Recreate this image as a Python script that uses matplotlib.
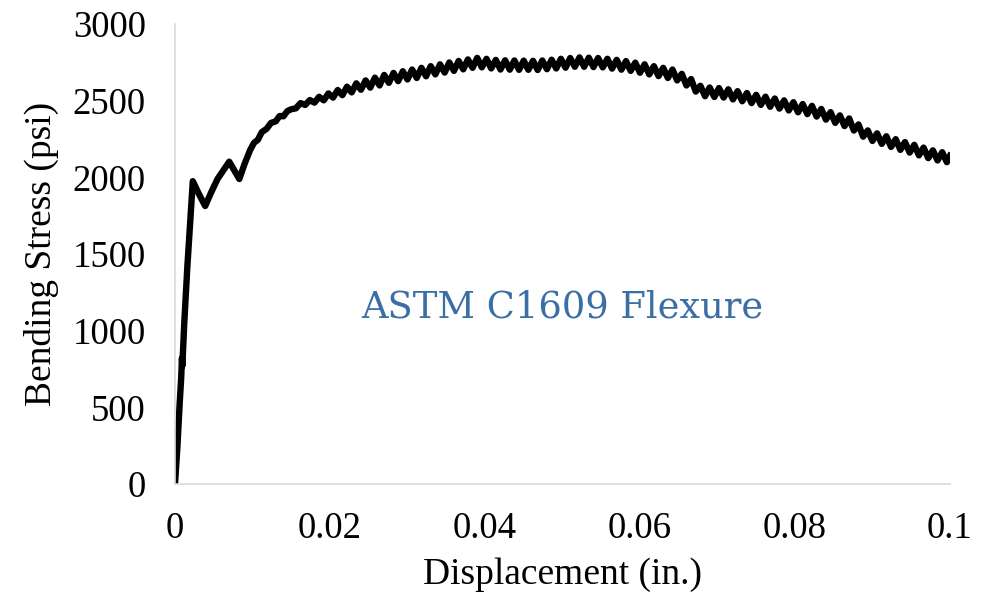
import matplotlib
matplotlib.use("Agg")
import matplotlib.pyplot as plt

# initial loading branch (in., psi)
disp_start = [0.0, 0.0003, 0.0006, 0.0008, 0.0009, 0.00095, 0.0012, 0.0016,
              0.0023, 0.0031, 0.0039, 0.0047, 0.0055, 0.0063, 0.0070, 0.0083,
              0.0090, 0.0097, 0.0102, 0.0107, 0.0112, 0.0118, 0.0124, 0.0130,
              0.0135, 0.0140, 0.0145]
stress_start = [0, 230, 520, 690, 820, 770, 1050, 1420,
                1975, 1890, 1813, 1905, 1990, 2050, 2102, 1989,
                2090, 2178, 2225, 2245, 2295, 2315, 2355, 2365,
                2400, 2398, 2432]

# oscillating post-crack branch, peaks and troughs
disp_osc = [
    0.0150, 0.0156, 0.0162, 0.0168, 0.0174, 0.0180, 0.0186, 0.0192, 0.0198, 0.0204,
    0.0210, 0.0216, 0.0222, 0.0228, 0.0234, 0.0240, 0.0246, 0.0252, 0.0258, 0.0264,
    0.0270, 0.0276, 0.0282, 0.0288, 0.0294, 0.0300, 0.0306, 0.0312, 0.0318, 0.0324,
    0.0330, 0.0336, 0.0342, 0.0348, 0.0354, 0.0360, 0.0366, 0.0372, 0.0378, 0.0384,
    0.0390, 0.0396, 0.0402, 0.0408, 0.0414, 0.0420, 0.0426, 0.0432, 0.0438, 0.0444,
    0.0450, 0.0456, 0.0462, 0.0468, 0.0474, 0.0480, 0.0486, 0.0492, 0.0498, 0.0504,
    0.0510, 0.0516, 0.0522, 0.0528, 0.0534, 0.0540, 0.0546, 0.0552, 0.0558, 0.0564,
    0.0570, 0.0576, 0.0582, 0.0588, 0.0594, 0.0600, 0.0606, 0.0612, 0.0618, 0.0624,
    0.0630, 0.0636, 0.0642, 0.0648, 0.0654, 0.0660, 0.0666, 0.0672, 0.0678, 0.0684,
    0.0690, 0.0696, 0.0702, 0.0708, 0.0714, 0.0720, 0.0726, 0.0732, 0.0738, 0.0744,
    0.0750, 0.0756, 0.0762, 0.0768, 0.0774, 0.0780, 0.0786, 0.0792, 0.0798, 0.0804,
    0.0810, 0.0816, 0.0822, 0.0828, 0.0834, 0.0840, 0.0846, 0.0852, 0.0858, 0.0864,
    0.0870, 0.0876, 0.0882, 0.0888, 0.0894, 0.0900, 0.0906, 0.0912, 0.0918, 0.0924,
    0.0930, 0.0936, 0.0942, 0.0948, 0.0954, 0.0960, 0.0966, 0.0972, 0.0978, 0.0984,
    0.0990, 0.0996, 0.1000,
]
stress_osc = [
    2444, 2450, 2484, 2472, 2504, 2487, 2525, 2502, 2547, 2520,
    2569, 2536, 2591, 2554, 2613, 2571, 2632, 2585, 2650, 2599,
    2668, 2616, 2681, 2627, 2692, 2638, 2703, 2648, 2714, 2659,
    2725, 2671, 2737, 2683, 2749, 2694, 2759, 2704, 2769, 2714,
    2779, 2717, 2773, 2710, 2766, 2703, 2763, 2702, 2762, 2701,
    2761, 2701, 2760, 2700, 2762, 2705, 2767, 2710, 2773, 2715,
    2778, 2721, 2782, 2721, 2780, 2719, 2778, 2717, 2773, 2709,
    2766, 2702, 2758, 2694, 2748, 2682, 2737, 2671, 2725, 2660,
    2714, 2648, 2703, 2632, 2675, 2599, 2641, 2559, 2597, 2529,
    2586, 2524, 2582, 2520, 2574, 2508, 2562, 2496, 2550, 2484,
    2538, 2472, 2526, 2460, 2514, 2448, 2502, 2436, 2490, 2424,
    2478, 2412, 2466, 2396, 2446, 2376, 2425, 2355, 2404, 2334,
    2384, 2305, 2345, 2265, 2306, 2237, 2287, 2218, 2268, 2198,
    2249, 2179, 2230, 2161, 2212, 2143, 2194, 2125, 2176, 2110,
    2164, 2099, 2140,
]

displacement = disp_start + disp_osc
stress = stress_start + stress_osc

plt.rcParams["font.family"] = ["Liberation Serif", "DejaVu Serif"]

fig = plt.figure(figsize=(9.97, 5.98), dpi=100)
ax = fig.add_axes([0.1755, 0.1906, 0.7773, 0.7693])

ax.plot(displacement, stress, color="black", lw=4.6, solid_joinstyle="round")

ax.set_xlim(0, 0.1)
ax.set_ylim(0, 3000)
ax.set_xticks([0, 0.02, 0.04, 0.06, 0.08, 0.1])
ax.set_xticklabels(["0", "0.02", "0.04", "0.06", "0.08", "0.1"])
ax.set_yticks(range(0, 3001, 500))
ax.tick_params(axis="both", length=0, labelsize=26.5)
ax.tick_params(axis="x", pad=20)
ax.tick_params(axis="y", pad=21)

for side in ["top", "right"]:
    ax.spines[side].set_visible(False)
for side in ["left", "bottom"]:
    ax.spines[side].set_color("#d9d9d9")
    ax.spines[side].set_linewidth(1.2)

ax.set_xlabel("Displacement (in.)", fontsize=27, labelpad=8)
ax.set_ylabel("Bending Stress (psi)", fontsize=27, labelpad=10)

ax.text(0.05, 1150, "ASTM C1609 Flexure", color="#3b6ea5", fontsize=26.5,
        family="DejaVu Serif", ha="center", va="center")

fig.savefig("out.png", dpi=100)
